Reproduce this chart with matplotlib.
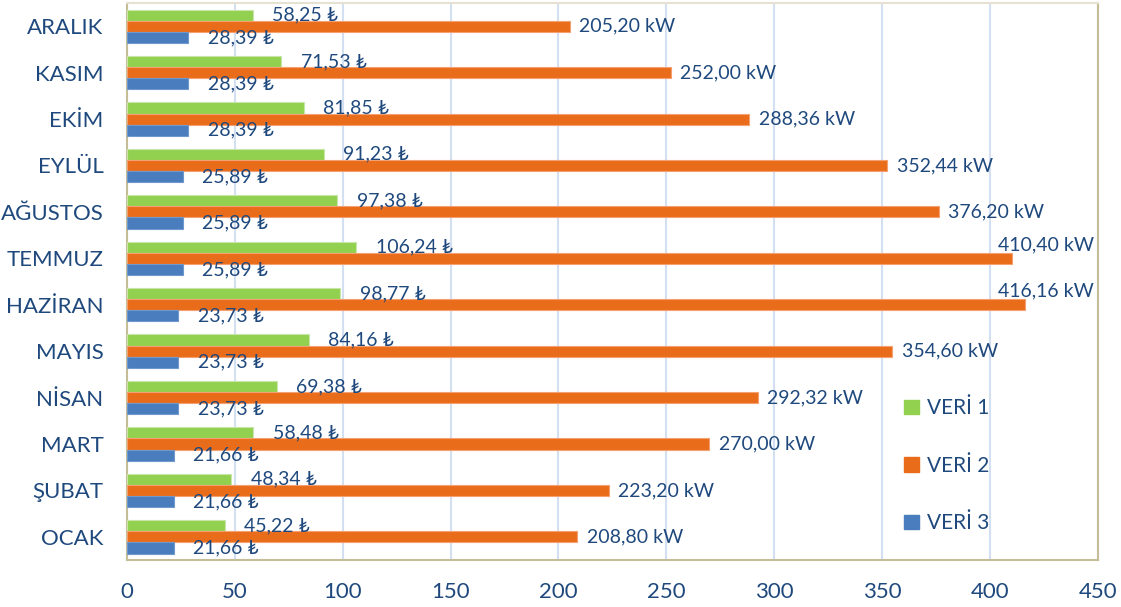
import matplotlib
matplotlib.use("Agg")
import matplotlib.pyplot as plt
from matplotlib.patches import Patch
import numpy as np

plt.rcParams['font.family'] = ['Lato', 'DejaVu Sans']

# Data (OCAK at the bottom)
months = ["OCAK", "ŞUBAT", "MART", "NİSAN", "MAYIS", "HAZİRAN",
          "TEMMUZ", "AĞUSTOS", "EYLÜL", "EKİM", "KASIM", "ARALIK"]
veri1 = [45.22, 48.34, 58.48, 69.38, 84.16, 98.77,
         106.24, 97.38, 91.23, 81.85, 71.53, 58.25]
veri2 = [208.80, 223.20, 270.00, 292.32, 354.60, 416.16,
         410.40, 376.20, 352.44, 288.36, 252.00, 205.20]
veri3 = [21.66, 21.66, 21.66, 23.73, 23.73, 23.73,
         25.89, 25.89, 25.89, 28.39, 28.39, 28.39]
series_names = ["VERİ 1", "VERİ 2", "VERİ 3"]
x_ticks = [0, 50, 100, 150, 200, 250, 300, 350, 400, 450]

GREEN = "#92d050"
ORANGE = "#e96c1a"
BLUE = "#4a7dbd"
TEXT = "#1f497d"
FRAME = "#c4bd97"
GRID = "#d3e0f1"

fig = plt.figure(figsize=(11.21, 6.07), dpi=100)
ax = fig.add_axes([0.1133, 0.0774, 0.866, 0.9176])

y = np.arange(len(months))
h = 0.24

ax.barh(y + h, veri1, height=h, color=GREEN, edgecolor="#c8e6a8", linewidth=0.8, zorder=3)
ax.barh(y, veri2, height=h, color=ORANGE, edgecolor="#f4a070", linewidth=0.8, zorder=3)
ax.barh(y - h, veri3, height=h, color=BLUE, edgecolor="#6f98cc", linewidth=0.8, zorder=3)

def fmt(v, unit):
    return f"{v:.2f}".replace(".", ",") + " " + unit

label_kw = dict(fontsize=14, color=TEXT, va="center", zorder=4)
for i in range(len(months)):
    ax.annotate(fmt(veri1[i], "₺"), (veri1[i], y[i] + h), xytext=(14, 0),
                textcoords="offset points", ha="left", **label_kw)
    ax.annotate(fmt(veri3[i], "₺"), (veri3[i], y[i] - h), xytext=(14, 0),
                textcoords="offset points", ha="left", **label_kw)
    if veri2[i] > 400:
        # no room on the right: label sits above the bar end
        ax.annotate(fmt(veri2[i], "kW"), (450, y[i] + 0.3), xytext=(-3, 0),
                    textcoords="offset points", ha="right", **label_kw)
    else:
        ax.annotate(fmt(veri2[i], "kW"), (veri2[i], y[i]), xytext=(7, 0),
                    textcoords="offset points", ha="left", **label_kw)

ax.set_xlim(0, 450)
ax.set_ylim(-0.5, len(months) - 0.5)
ax.set_xticks(x_ticks)
ax.set_yticks(y)
ax.set_yticklabels(months)
ax.tick_params(axis="x", length=0, pad=16, labelsize=16, labelcolor=TEXT)
ax.tick_params(axis="y", length=0, pad=17, labelsize=16, labelcolor=TEXT)

ax.grid(axis="x", color=GRID, linewidth=1.5, zorder=0)
ax.set_axisbelow(True)
for side in ["left", "bottom", "right", "top"]:
    ax.spines[side].set_color(FRAME)
    ax.spines[side].set_linewidth(1.5)
ax.spines["top"].set_color("#e6e2d2")

handles = [Patch(facecolor=c, edgecolor=c) for c in (GREEN, ORANGE, BLUE)]
leg = ax.legend(handles, series_names, loc="center left", bbox_to_anchor=(0.79, 0.169),
                frameon=False, fontsize=15, labelspacing=1.8, handlelength=0.7,
                handleheight=0.7, handletextpad=0.4, borderpad=0)
for t in leg.get_texts():
    t.set_color(TEXT)

fig.savefig("out.png", dpi=100)
